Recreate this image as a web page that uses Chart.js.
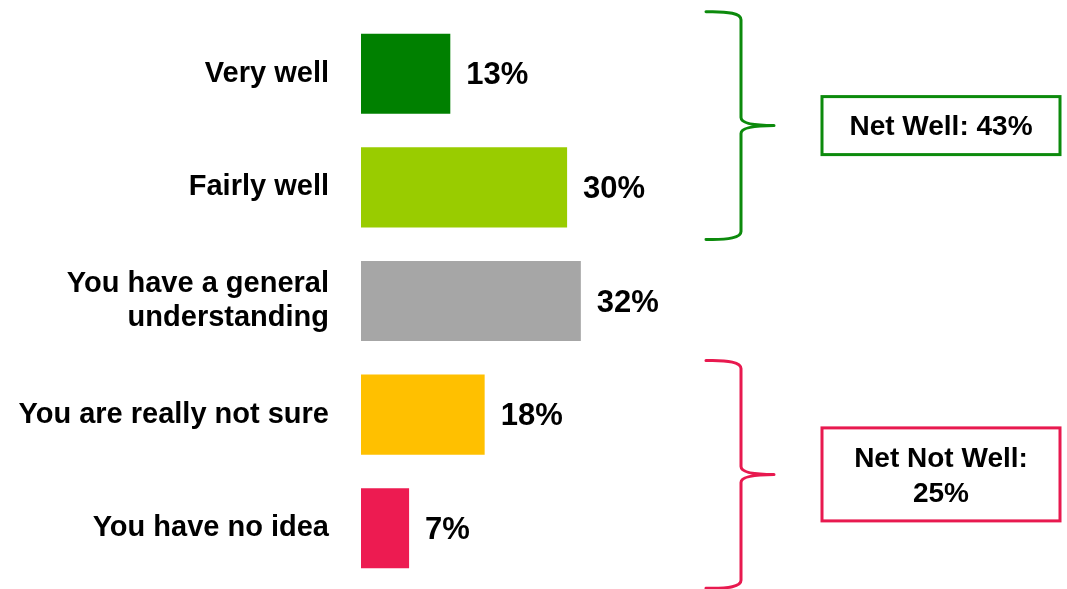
<!DOCTYPE html>
<html>
<head>
<meta charset="utf-8">
<script src="https://cdn.jsdelivr.net/npm/chart.js@4/dist/chart.umd.min.js"></script>
<style>
  html, body { margin: 0; padding: 0; background: #fff; }
  #wrap { width: 1067px; height: 589px; }
</style>
</head>
<body>
<div id="wrap"><canvas id="chart"></canvas></div>
<script>
const categories = [
  'Very well',
  'Fairly well',
  ['You have a general', 'understanding'],
  'You are really not sure',
  'You have no idea'
];
const values = [13, 30, 32, 18, 7];
const barColors = ['#008000', '#99CC00', '#A6A6A6', '#FFC000', '#ED1B51'];

// brace groups: first/last category index, box text, colour
const groupFrom = [0, 3];
const groupTo = [1, 4];
const groupText = [['Net Well: 43%'], ['Net Not Well:', '25%']];
const groupColors = ['#0C8A0C', '#E8194F'];

const FONT = '"Liberation Sans", Arial, sans-serif';

const valueLabels = {
  id: 'valueLabels',
  afterDatasetsDraw(chart) {
    const ctx = chart.ctx;
    const meta = chart.getDatasetMeta(0);
    ctx.save();
    ctx.font = 'bold 31px ' + FONT;
    ctx.fillStyle = '#000';
    ctx.textAlign = 'left';
    ctx.textBaseline = 'middle';
    meta.data.forEach((bar, i) => {
      ctx.fillText(values[i] + '%', bar.x + 16, bar.y + 2);
    });
    ctx.restore();
  }
};

const braces = {
  id: 'braces',
  afterDraw(chart) {
    const ctx = chart.ctx;
    const y = chart.scales.y;
    const half = 57;
    const nudge = [-5, 3];
    const xl = 706, xv = 741, xt = 774;
    ctx.save();
    groupFrom.forEach((from, g) => {
      const top = y.getPixelForValue(from) - half + nudge[g];
      const bot = y.getPixelForValue(groupTo[g]) + half + nudge[g];
      const mid = (top + bot) / 2;
      ctx.strokeStyle = groupColors[g];
      ctx.lineWidth = 3;
      ctx.lineCap = 'round';
      ctx.beginPath();
      ctx.moveTo(xl, top);
      ctx.quadraticCurveTo(xv, top - 1, xv, top + 8);
      ctx.lineTo(xv, mid - 8);
      ctx.quadraticCurveTo(xv, mid, xt, mid);
      ctx.moveTo(xv, mid + 8);
      ctx.quadraticCurveTo(xv, mid, xt, mid);
      ctx.moveTo(xv, mid + 8);
      ctx.lineTo(xv, bot - 8);
      ctx.quadraticCurveTo(xv, bot + 1, xl, bot);
      ctx.stroke();

      // box
      const lines = groupText[g];
      const lh = 35;
      const bh = lines.length === 1 ? 58 : 93;
      const bx = 822, bw = 238;
      const by = mid - bh / 2;
      ctx.lineWidth = 3;
      ctx.strokeRect(bx, by, bw, bh);
      ctx.fillStyle = '#000';
      ctx.font = 'bold 28px ' + FONT;
      ctx.textAlign = 'center';
      ctx.textBaseline = 'middle';
      const startY = mid - (lines.length - 1) * lh / 2 + 2;
      lines.forEach((t, i) => ctx.fillText(t, bx + bw / 2, startY + i * lh));
    });
    ctx.restore();
  }
};

new Chart(document.getElementById('chart'), {
  type: 'bar',
  data: {
    labels: categories,
    datasets: [{
      data: values,
      backgroundColor: barColors,
      borderWidth: 0,
      categoryPercentage: 1,
      barPercentage: 0.705
    }]
  },
  options: {
    indexAxis: 'y',
    responsive: true,
    maintainAspectRatio: false,
    animation: false,
    layout: { padding: { top: 17, bottom: 4, left: 0, right: 19 } },
    plugins: {
      legend: { display: false },
      tooltip: { enabled: false }
    },
    scales: {
      x: {
        display: false,
        min: 0,
        max: 100
      },
      y: {
        border: { display: false },
        grid: { display: false, drawTicks: false },
        afterFit(scale) {
          scale.width = 361;
          scale.paddingTop = 0;
          scale.paddingBottom = 0;
        },
        ticks: {
          padding: 32,
          color: '#000',
          font: { family: FONT, size: 29, weight: 'bold', lineHeight: 1.2 }
        }
      }
    }
  },
  plugins: [valueLabels, braces]
});
</script>
</body>
</html>
